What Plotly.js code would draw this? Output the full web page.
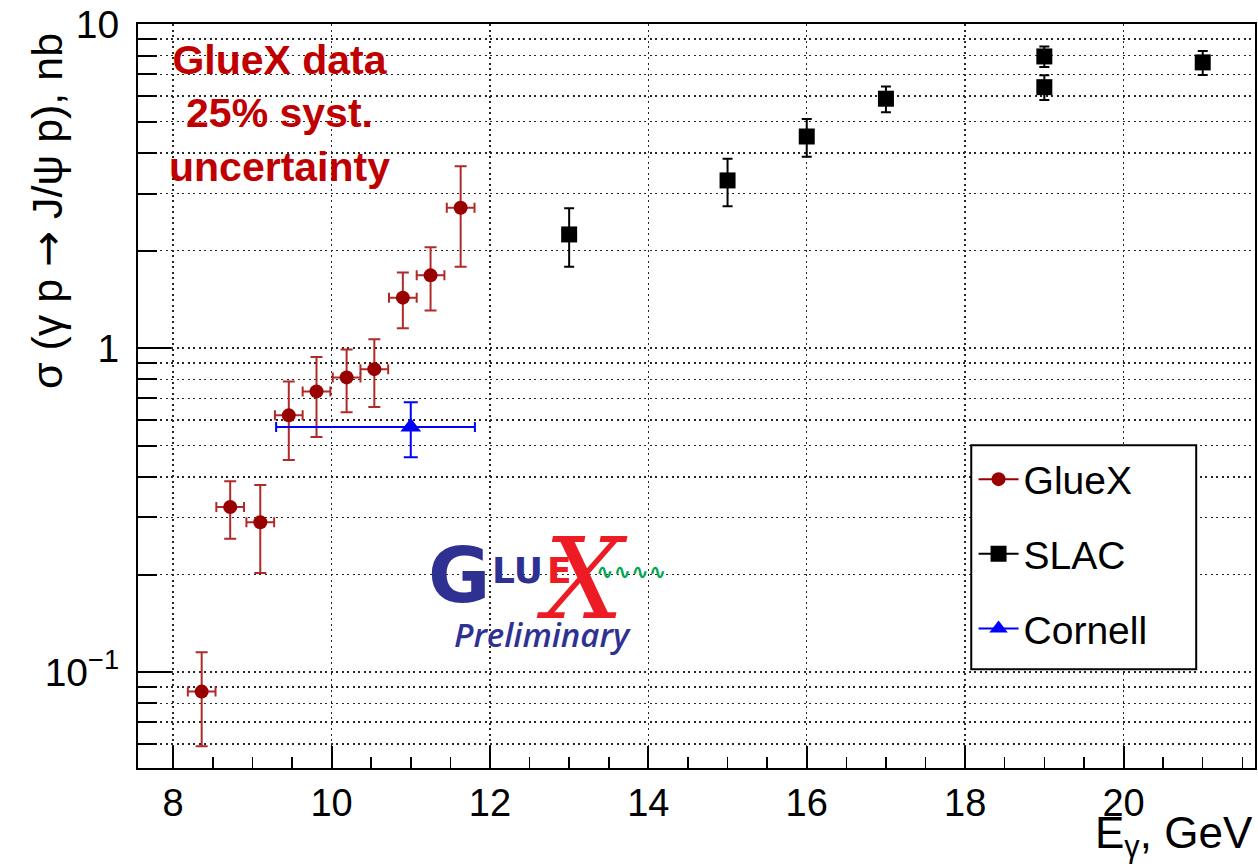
<!DOCTYPE html>
<html>
<head>
<meta charset="utf-8">
<script src="https://cdn.plot.ly/plotly-3.0.1.min.js"></script>
<style>
  html, body { margin: 0; padding: 0; background: #ffffff; }
  #chart { width: 1258px; height: 867px; }
</style>
</head>
<body>
<div id="chart"></div>
<script>
// J/psi photoproduction cross section vs photon energy

// GlueX
const glueE     = [8.36, 8.72, 9.10, 9.46, 9.81, 10.19, 10.54, 10.90, 11.25, 11.63];
const glueEErr  = [0.175, 0.175, 0.175, 0.175, 0.175, 0.175, 0.175, 0.175, 0.175, 0.175];
const glueSigma = [0.087, 0.323, 0.290, 0.620, 0.735, 0.812, 0.861, 1.431, 1.677, 2.713];
const glueErr   = [0.028, 0.065, 0.088, 0.169, 0.203, 0.178, 0.203, 0.280, 0.370, 0.930];

// SLAC
const slacE     = [13, 15, 16, 17, 19, 19, 21];
const slacSigma = [2.243, 3.293, 4.50, 5.886, 7.95, 6.39, 7.62];
const slacErr   = [0.46, 0.55, 0.60, 0.54, 0.58, 0.56, 0.65];

// Cornell
const cornellE        = [11.0];
const cornellEErrPlus = [0.81];
const cornellEErrMin  = [1.70];
const cornellSigma    = [0.5705];
const cornellErr      = [0.11];

// Axis labels
const yTickVals  = [0.1, 1, 10];
const yTickText  = ['10<sup>−1</sup>', '1', '10'];
const yMinorVals = [0.06, 0.07, 0.08, 0.09, 0.2, 0.3, 0.4, 0.5, 0.6, 0.7, 0.8, 0.9,
                    2, 3, 4, 5, 6, 7, 8, 9];

// Put a gap after every point so the legend shows a line through the marker
// while no connecting lines are drawn between points.
function gapped(arr) {
  const out = [];
  arr.forEach(v => { out.push(v, null); });
  return out;
}

const FONT = 'Liberation Sans, Arial, Helvetica, sans-serif';
const GLUE_RED = '#990000';
const GLUE_ERR = '#b02a2a';

const traces = [
  {
    name: 'GlueX', legendgroup: 'a',
    x: gapped(glueE), y: gapped(glueSigma),
    mode: 'lines+markers', connectgaps: false,
    line: { color: GLUE_RED, width: 2 },
    marker: { symbol: 'circle', size: 14, color: GLUE_RED },
    error_y: { type: 'data', array: gapped(glueErr), color: GLUE_ERR, thickness: 2, width: 6 },
    error_x: { type: 'data', array: gapped(glueEErr), color: GLUE_ERR, thickness: 2, width: 5 }
  },
  {
    name: 'SLAC', legendgroup: 'b',
    x: gapped(slacE), y: gapped(slacSigma),
    mode: 'lines+markers', connectgaps: false,
    line: { color: '#000000', width: 2 },
    marker: { symbol: 'square', size: 16, color: '#000000' },
    error_y: { type: 'data', array: gapped(slacErr), color: '#000000', thickness: 2, width: 5 }
  },
  {
    name: 'Cornell', legendgroup: 'c',
    x: gapped(cornellE), y: gapped(cornellSigma),
    mode: 'lines+markers', connectgaps: false,
    line: { color: '#0000ff', width: 2 },
    marker: { symbol: 'triangle-up', size: 18, color: '#0000ff' },
    error_y: { type: 'data', array: gapped(cornellErr), color: '#0000ff', thickness: 2, width: 7 },
    error_x: { type: 'data', array: gapped(cornellEErrPlus), arrayminus: gapped(cornellEErrMin),
               color: '#0000ff', thickness: 2, width: 5 }
  }
];

// Plot area in page pixels, used to place the annotations and the legend frame
const PL = 138.3, PR = 1255.5, PT = 23.7, PB = 767.7;
const px = v => (v - PL) / (PR - PL);
const py = v => (PB - v) / (PB - PT);

const GRID = { color: '#262626', dash: '2px,3.5px', width: 1.5 };
const X_RANGE = [7.556, 21.66];

const layout = {
  width: 1258, height: 867,
  margin: { l: PL, r: 1258 - PR, t: PT, b: 867 - PB, pad: 0 },
  paper_bgcolor: '#ffffff', plot_bgcolor: '#ffffff',
  font: { family: FONT, color: '#000000' },
  showlegend: true,
  xaxis: {
    range: X_RANGE, tick0: 0, dtick: 2,
    showline: true, mirror: true, linecolor: '#000000', linewidth: 2,
    ticks: 'inside', ticklen: 22, tickwidth: 2, tickcolor: '#000000',
    tickfont: { size: 38, family: FONT }, ticklabelstandoff: 0,
    showgrid: true, gridcolor: GRID.color, griddash: GRID.dash, gridwidth: GRID.width,
    zeroline: false,
    minor: { tick0: 0, dtick: 0.5, ticks: 'inside', ticklen: 11, tickwidth: 1.5,
             tickcolor: '#000000', showgrid: false }
  },
  xaxis2: {
    overlaying: 'x', anchor: 'y', side: 'bottom', range: X_RANGE,
    tick0: 0, dtick: 0.1, ticks: 'inside', ticklen: 4, tickwidth: 1, tickcolor: '#000000',
    showticklabels: false, showgrid: false, showline: false, zeroline: false
  },
  yaxis: {
    type: 'log', range: [-1.2963, 1.0005],
    tickmode: 'array', tickvals: yTickVals, ticktext: yTickText,
    showline: true, mirror: true, linecolor: '#000000', linewidth: 2,
    ticks: 'inside', ticklen: 33, tickwidth: 2, tickcolor: '#000000',
    tickfont: { size: 39, family: FONT }, ticklabelstandoff: 9,
    showgrid: true, gridcolor: GRID.color, griddash: GRID.dash, gridwidth: GRID.width,
    zeroline: false,
    minor: { tickmode: 'array', tickvals: yMinorVals, ticks: 'inside', ticklen: 19,
             tickwidth: 2, tickcolor: '#000000',
             showgrid: true, gridcolor: GRID.color, griddash: GRID.dash, gridwidth: GRID.width }
  },
  legend: {
    x: px(974), y: py(447), xanchor: 'left', yanchor: 'top',
    bgcolor: 'rgba(0,0,0,0)', borderwidth: 0,
    font: { size: 39, family: FONT, color: '#000000' },
    tracegroupgap: 21, traceorder: 'grouped', itemwidth: 40
  },
  shapes: [
    // legend frame
    { type: 'rect', xref: 'paper', yref: 'paper', layer: 'above',
      x0: px(971.7), x1: px(1196.7), y0: py(669), y1: py(445),
      fillcolor: '#ffffff', line: { color: '#000000', width: 2 } }
  ],
  annotations: [
    // axis titles
    { xref: 'paper', yref: 'paper', x: px(48), y: py(211), xanchor: 'center', yanchor: 'middle',
      textangle: -90, showarrow: false,
      text: 'σ (γ p <span style="font-family:DejaVu Sans">→</span> J/ψ p), nb',
      font: { size: 43, family: FONT, color: '#000000' } },
    { xref: 'paper', yref: 'paper', x: 1, y: py(836), xanchor: 'right', yanchor: 'middle',
      showarrow: false, text: 'E<sub>γ</sub>, GeV',
      font: { size: 44, family: FONT, color: '#000000' } },
    // systematic uncertainty note
    { xref: 'paper', yref: 'paper', x: px(280), y: py(113), xanchor: 'center', yanchor: 'middle',
      align: 'center', showarrow: false,
      text: '<b>GlueX data<br>25% syst.<br>uncertainty</b>',
      font: { size: 41, family: FONT, color: '#c00000' } },
    // GlueX Preliminary logo
    { xref: 'paper', yref: 'paper', x: px(426), y: py(575), xanchor: 'left', yanchor: 'middle',
      showarrow: false, text: '<b>G</b>',
      font: { size: 76, family: 'DejaVu Sans', color: '#2e3192' } },
    { xref: 'paper', yref: 'paper', x: px(490), y: py(570), xanchor: 'left', yanchor: 'middle',
      showarrow: false, text: '<b>LU</b>',
      font: { size: 36, family: 'DejaVu Sans', color: '#2e3192' } },
    { xref: 'paper', yref: 'paper', x: px(545), y: py(570), xanchor: 'left', yanchor: 'middle',
      showarrow: false, text: '<b>E</b>',
      font: { size: 36, family: 'DejaVu Sans', color: '#ed1c24' } },
    { xref: 'paper', yref: 'paper', x: px(582), y: py(579), xanchor: 'center', yanchor: 'middle',
      showarrow: false, text: '<i>X</i>',
      font: { size: 112, family: 'DejaVu Serif', color: '#ed1c24' } },
    { xref: 'paper', yref: 'paper', x: px(594), y: py(572), xanchor: 'left', yanchor: 'middle',
      showarrow: false, text: '<b>∿∿∿∿</b>',
      font: { size: 21, family: 'DejaVu Sans', color: '#00a651' } },
    { xref: 'paper', yref: 'paper', x: px(543), y: py(634), xanchor: 'center', yanchor: 'middle',
      showarrow: false, text: '<i>Preliminary</i>',
      font: { size: 33, family: 'Open Sans', weight: 600, color: '#2e3192' } }
  ]
};

Plotly.newPlot('chart', traces, layout, { staticPlot: true, displayModeBar: false });
</script>
</body>
</html>
